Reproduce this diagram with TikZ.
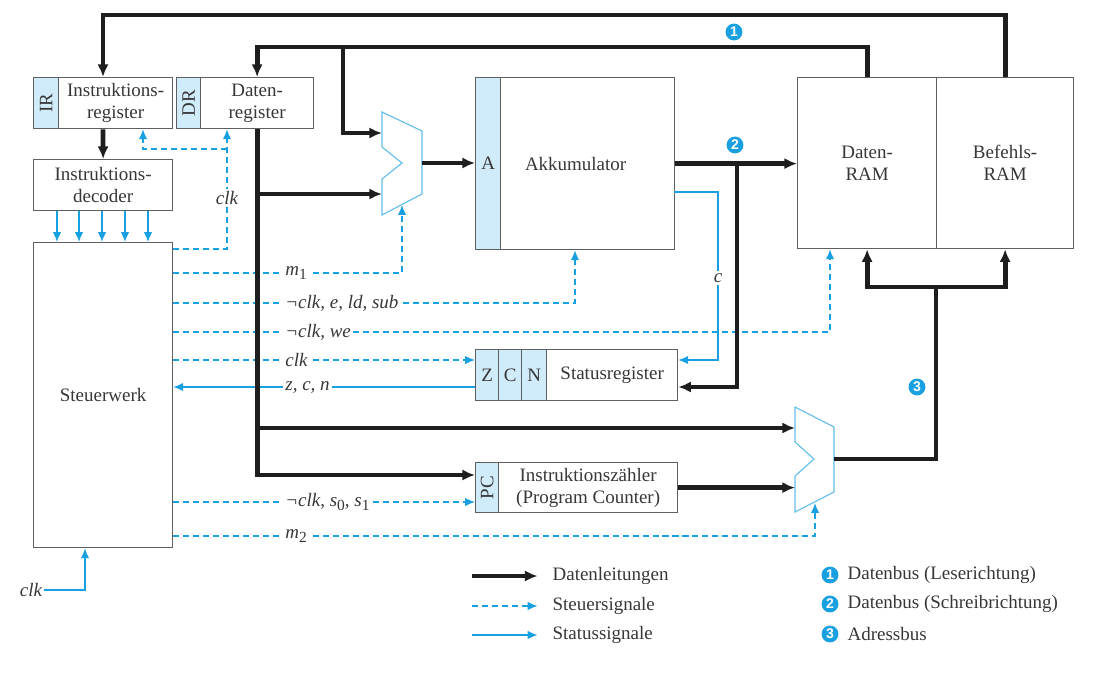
\documentclass[tikz,border=0pt]{standalone}
\usepackage{fontspec}
\setmainfont{Liberation Serif}
\setsansfont{Liberation Sans}
\usetikzlibrary{arrows.meta,positioning}

\definecolor{sigblue}{RGB}{25,160,225}
\definecolor{stripblue}{RGB}{208,235,249}
\definecolor{muxblue}{RGB}{100,190,235}
\definecolor{textgray}{RGB}{55,55,55}
\definecolor{framegray}{RGB}{95,95,95}
\definecolor{busblack}{RGB}{30,30,30}

\newcommand{\px}{0.025cm}
\newcommand{\lowidx}[1]{\raisebox{-0.5ex}{\upshape\fontsize{11}{12}\selectfont #1}}

\tikzset{
  box/.style={draw=framegray, line width=0.9pt, fill=white, inner sep=0pt,
    anchor=north west, align=center, text=textgray},
  strip/.style={box, fill=stripblue},
  mux/.style={draw=muxblue, line width=0.8pt, fill=white},
  bus/.style={line width=3.4pt, busblack},
  data/.style={bus, -{Latex[length=9pt,width=8pt]}},
  ctrl/.style={sigblue, line width=1pt, dash pattern=on 4.3pt off 2.8pt,
    -{Latex[length=7pt,width=6pt]}},
  stat/.style={sigblue, line width=1pt, -{Latex[length=7pt,width=6pt]}},
  sig/.style={fill=white, inner sep=1.5pt, text=textgray, font=\itshape},
  num/.style={circle, fill=sigblue, text=white, inner sep=0pt, minimum size=12pt,
    font=\sffamily\bfseries\fontsize{10}{10}\selectfont},
  legtext/.style={anchor=west, text=textgray},
}

\begin{document}
\fontsize{13.5}{15.5}\selectfont
\begin{tikzpicture}[x=0.025cm, y=-0.025cm]
\useasboundingbox (0,0) rectangle (1102,672);

% Register links
\node[strip, minimum width=25*\px, minimum height=51*\px] (irtag) at (33,77) {\rotatebox{90}{IR}};
\node[box, minimum width=114*\px, minimum height=51*\px] (ir) at (58,77) {Instruktions-\\register};
\node[strip, minimum width=24*\px, minimum height=51*\px] (drtag) at (176,77) {\rotatebox{90}{DR}};
\node[box, minimum width=113*\px, minimum height=51*\px] (dr) at (200,77) {Daten-\\register};
\node[box, minimum width=139*\px, minimum height=51*\px] (dec) at (33,159) {Instruktions-\\decoder};
\node[box, minimum width=139*\px, minimum height=305*\px] (sw) at (33,242) {Steuerwerk};

% Akkumulator, RAM
\node[strip, minimum width=25*\px, minimum height=172*\px] (akkutag) at (475,77) {A};
\node[box, minimum width=174*\px, minimum height=172*\px] (akku) at (500,77) {Akkumulator\hspace*{0.6cm}};
\node[box, minimum width=139*\px, minimum height=171*\px] (dram) at (797,77) {Daten-\\RAM};
\node[box, minimum width=137*\px, minimum height=171*\px] (iram) at (936,77) {Befehls-\\RAM};

% Statusregister, PC
\node[strip, minimum width=23*\px, minimum height=51*\px] (ztag) at (475,349) {Z};
\node[strip, minimum width=23*\px, minimum height=51*\px] (ctag) at (498,349) {C};
\node[strip, minimum width=25*\px, minimum height=51*\px] (ntag) at (521,349) {N};
\node[box, minimum width=131*\px, minimum height=51*\px] (sr) at (546,349) {Statusregister};
\node[strip, minimum width=23*\px, minimum height=50*\px] (pctag) at (475,462) {\rotatebox{90}{PC}};
\node[box, minimum width=179*\px, minimum height=50*\px] (pc) at (498,462) {Instruktionszähler\\(Program Counter)};

% Multiplexer
\draw[mux] (382,112) -- (422,131) -- (422,194) -- (382,215) -- (382,179) -- (402,163) -- (382,147) -- cycle;
\coordinate (mux1in1) at (382,133);
\coordinate (mux1in2) at (382,194);
\coordinate (mux1out) at (422,163);
\coordinate (mux1sel) at (402,205);
\draw[mux] (795,407) -- (834,427) -- (834,492) -- (795,512) -- (795,476) -- (814,459) -- (795,442) -- cycle;
\coordinate (mux2in1) at (795,428);
\coordinate (mux2out) at (834,459);
\coordinate (mux2sel) at (815,503);

% Steuersignale
\coordinate (clkv) at (227,249);
\draw[ctrl] (sw.east |- clkv) -| (dr.south -| clkv);
\draw[ctrl] (clkv |- 0,149) -| (ir.south -| 143,0);
\node[sig] (lclk1) at (227,198) {clk};
\draw[ctrl] (sw.east |- 0,273) -| (mux1sel);
\node[sig, anchor=west] (lm1) at (283,273) {\textit{m}\lowidx{1}};
\draw[ctrl] (sw.east |- 0,303) -| (akku.south -| 575,0);
\node[sig, anchor=west] (lld) at (283,303) {¬clk, e, ld, sub};
\draw[ctrl] (sw.east |- 0,332) -| (dram.south -| 830,0);
\node[sig, anchor=west] (lwe) at (283,332) {¬clk, we};
\draw[ctrl] (sw.east |- 0,360) -- (ztag.west |- 0,360);
\node[sig, anchor=west] (lclk2) at (283,360) {clk};
\draw[ctrl] (sw.east |- 0,502) -- (pctag.west |- 0,502);
\node[sig, anchor=west] (ls) at (283,502) {¬clk, \textit{s}\lowidx{0}\textit{, s}\lowidx{1}};
\draw[ctrl] (sw.east |- 0,536) -| (mux2sel);
\node[sig, anchor=west] (lm2) at (283,536) {\textit{m}\lowidx{2}};

% Statussignale
\foreach \x in {57,79,102,125,148}
  \draw[stat] (dec.south -| \x,0) -- (sw.north -| \x,0);
\draw[stat] (ztag.west |- 0,387) -- (sw.east |- 0,387);
\node[sig, anchor=west] (lzcn) at (283,387) {z, c, n};
\coordinate (cout) at (674,192);
\coordinate (cbend) at (718,360);
\draw[stat] (cout) -| (cbend) -- (sr.east |- cbend);
\node[sig] (lc) at (718,278) {c};
\node[sig] (clkin) at (31,590) {clk};
\draw[stat] (clkin.east) -| (sw.south -| 85,0);

% Datenleitungen
\coordinate (rd1) at (103,15);
\draw[data] (iram.north) |- (rd1) -- (rd1 |- ir.north);
\draw[data] (rd1 |- ir.south) -- (dec.north);
\coordinate (rd2) at (343,47);
\draw[data] (dram.north) |- (rd2) -| (dr.north);
\draw[data] (rd2) |- (mux1in1);
\draw[data] (dr.south) |- (pctag.west |- 0,475);
\draw[data] (dr.south |- mux1in2) -- (mux1in2);
\draw[data] (dr.south |- mux2in1) -- (mux2in1);
\draw[data] (mux1out) -- (mux1out -| akkutag.west);
\draw[data] (akku.east) -- (akku.east -| dram.west);
\coordinate (wbr) at (737,163);
\draw[data] (wbr) |- (sr.east |- 0,387);
\draw[data] (pc.east) -- (pc.east -| mux2in1);
\coordinate (abus) at (936,287);
\draw[bus] (mux2out) -| (abus);
\draw[data] (abus) -| (dram.south);
\draw[data] (abus) -| (iram.south);

% Busnummern
\node[num] (n1) at (734,32) {1};
\node[num] (n2) at (735,145) {2};
\node[num] (n3) at (917,387) {3};

% Legende
\coordinate (lg1) at (472,576);
\coordinate (lg2) at (472,606);
\coordinate (lg3) at (472,635);
\node[legtext] (legdata) at (546,576) {Datenleitungen};
\node[legtext] (legctrl) at (546,606) {Steuersignale};
\node[legtext] (legstat) at (546,635) {Statussignale};
\draw[data, shorten >=6pt] (lg1) -- (legdata.west);
\draw[ctrl, shorten >=6pt] (lg2) -- (legctrl.west);
\draw[stat, shorten >=6pt] (lg3) -- (legstat.west);
\node[num] (ln1) at (830,575) {1};
\node[num] (ln2) at (830,604) {2};
\node[num] (ln3) at (830,634) {3};
\node[legtext] (lb1) at (841,575) {Datenbus (Leserichtung)};
\node[legtext] (lb2) at (841,604) {Datenbus (Schreibrichtung)};
\node[legtext] (lb3) at (841,634) {Adressbus};
\end{tikzpicture}
\end{document}
